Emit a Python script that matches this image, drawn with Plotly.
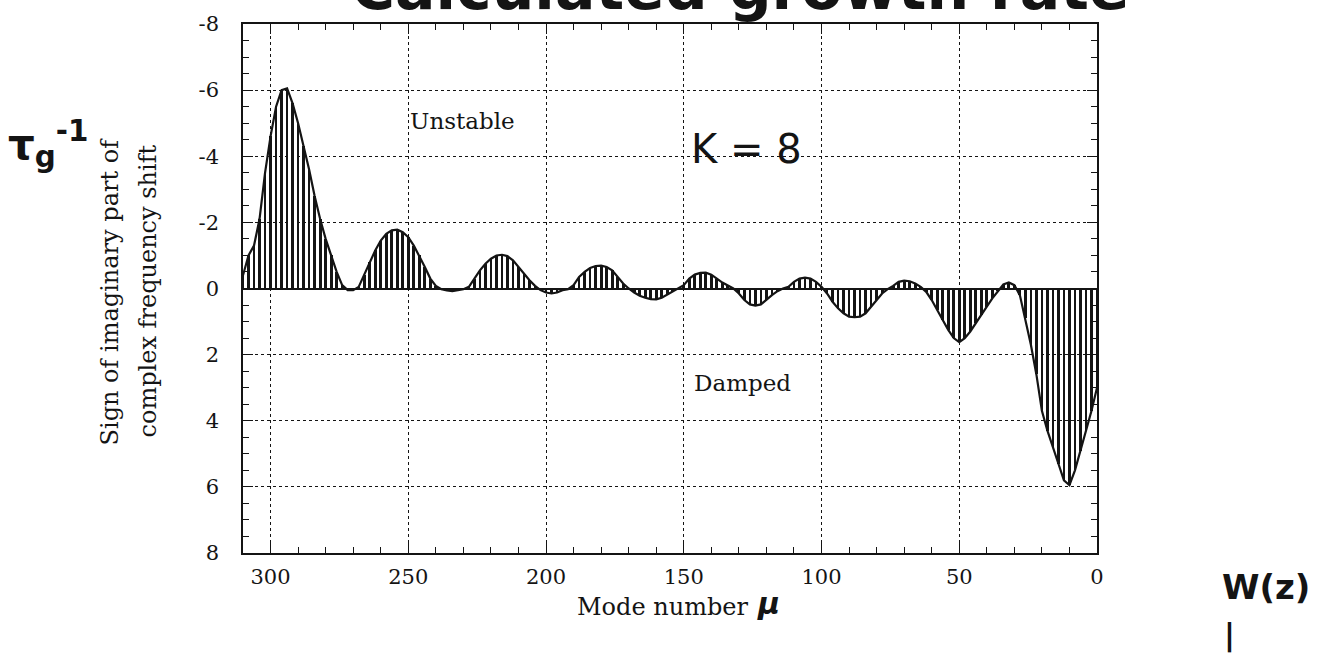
import plotly.graph_objects as go

# ---------------- data ----------------
mode_number = list(range(0, 311, 2))
growth = [
    3.0, 3.7, 4.3, 4.9, 5.5, 5.95, 5.8, 5.3, 4.8, 4.3,          # 0-18
    3.7, 2.6, 1.7, 0.9, 0.2, -0.1, -0.18, -0.12, 0.08, 0.3,      # 20-38
    0.55, 0.8, 1.05, 1.3, 1.5, 1.62, 1.5, 1.25, 0.95, 0.65,      # 40-58
    0.35, 0.1, -0.05, -0.15, -0.22, -0.24, -0.2, -0.08, 0.02, 0.15,  # 60-78
    0.35, 0.55, 0.75, 0.85, 0.87, 0.85, 0.75, 0.6, 0.4, 0.15,    # 80-98
    -0.05, -0.2, -0.3, -0.33, -0.3, -0.2, -0.05, 0.0, 0.08, 0.2,  # 100-118
    0.35, 0.48, 0.52, 0.48, 0.35, 0.15, 0.0, -0.08, -0.18, -0.3,  # 120-138
    -0.42, -0.48, -0.47, -0.42, -0.3, -0.1, 0.0, 0.08, 0.2, 0.28,  # 140-158
    0.33, 0.32, 0.28, 0.22, 0.12, 0.0, -0.15, -0.35, -0.55, -0.65,  # 160-178
    -0.69, -0.68, -0.62, -0.5, -0.35, -0.1, 0.02, 0.05, 0.12, 0.15,  # 180-198
    0.12, 0.05, -0.08, -0.25, -0.45, -0.65, -0.85, -0.98, -1.02, -1.0,  # 200-218
    -0.9, -0.75, -0.55, -0.3, -0.05, 0.02, 0.05, 0.08, 0.06, 0.02,  # 220-238
    -0.08, -0.3, -0.65, -1.0, -1.3, -1.55, -1.7, -1.78, -1.76, -1.65,  # 240-258
    -1.45, -1.15, -0.8, -0.4, -0.05, 0.05, 0.05, -0.1, -0.5, -1.0,  # 260-278
    -1.5, -2.1, -2.8, -3.6, -4.3, -5.0, -5.6, -6.05, -6.0, -5.5,  # 280-298
    -4.6, -3.5, -2.1, -1.3, -1.0, -0.4,                          # 300-310
]

x_tick_vals = [300, 250, 200, 150, 100, 50, 0]
x_tick_text = ["300", "250", "200", "150", "100", "50", "0"]
y_tick_vals = [-8, -6, -4, -2, 0, 2, 4, 6, 8]
y_tick_text = ["-8", "-6", "-4", "-2", "0", "2", "4", "6", "8"]

# ---------------- layout helpers ----------------
W, H = 1318, 657
L, R, T, B = 243, 1097, 19, 553


def px(x):
    return (x - L) / (R - L)


def py(y):
    return (B - y) / (B - T)


INK = "#141414"
SERIF = "DejaVu Serif"
HAND = "DejaVu Sans"

fig = go.Figure()
fig.add_trace(go.Bar(
    x=mode_number, y=growth, width=1.0,
    marker=dict(color=INK, line=dict(width=0)),
    hoverinfo="x+y", showlegend=False,
))
fig.add_trace(go.Scatter(
    x=mode_number, y=growth, mode="lines",
    line=dict(color=INK, width=2.2),
    hoverinfo="skip", showlegend=False,
))

axis_common = dict(
    showline=True, linecolor=INK, linewidth=1.6, mirror="allticks",
    ticks="inside", ticklen=10, tickwidth=1.4, tickcolor=INK,
    showgrid=True, gridcolor=INK, gridwidth=1.3, griddash="dot",
    tickfont=dict(family=SERIF, size=21, color=INK),
)

fig.update_xaxes(
    range=[310, 0], tickmode="array", tickvals=x_tick_vals, ticktext=x_tick_text,
    zeroline=False, ticklabelstandoff=4,
    minor=dict(dtick=10, ticks="inside", ticklen=6, tickwidth=1.2, tickcolor=INK, showgrid=False),
    **axis_common,
)
fig.update_yaxes(
    range=[8, -8], tickmode="array", tickvals=y_tick_vals, ticktext=y_tick_text,
    zeroline=True, zerolinecolor=INK, zerolinewidth=1.6, ticklabelstandoff=18,
    minor=dict(dtick=0.5, ticks="inside", ticklen=6, tickwidth=1.2, tickcolor=INK, showgrid=False),
    **axis_common,
)

annotations = [
    # printed labels
    dict(text="Unstable", x=px(462), y=py(117), font=dict(family=SERIF, size=23, color=INK)),
    dict(text="Damped", x=px(742), y=py(381), font=dict(family=SERIF, size=23, color=INK)),
    dict(text="Sign of imaginary part of", x=px(110), y=py(289), textangle=-90,
         font=dict(family=SERIF, size=24, color=INK)),
    dict(text="complex frequency shift", x=px(148), y=py(289), textangle=-90,
         font=dict(family=SERIF, size=24, color=INK)),
    dict(text="Mode number", x=px(662), y=py(608), font=dict(family=SERIF, size=24, color=INK)),
    # handwritten additions
    dict(text="<b><i>μ</i></b>", x=px(768), y=py(604), font=dict(family=HAND, size=30, color=INK)),
    dict(text="K = 8", x=px(746), y=py(145), font=dict(family=HAND, size=40, color=INK)),
    dict(text="<b>τ<sub>g</sub><sup>-1</sup></b>", x=px(6), y=py(140), xanchor="left",
         font=dict(family=HAND, size=42, color=INK)),
    dict(text="<b>W(z)</b>", x=px(1266), y=py(587), font=dict(family=HAND, size=34, color=INK)),
    dict(text="<b>|</b>", x=px(1229), y=py(636), font=dict(family=HAND, size=30, color=INK)),
    dict(text="<b>Calculated growth rate</b>", x=px(740), y=py(20), yanchor="bottom",
         font=dict(family=HAND, size=60, color=INK)),
]
for a in annotations:
    a.setdefault("xref", "paper")
    a.setdefault("yref", "paper")
    a.setdefault("showarrow", False)
    a.setdefault("xanchor", "center")
    a.setdefault("yanchor", "middle")
fig.update_layout(annotations=annotations)

fig.update_layout(
    width=W, height=H,
    margin=dict(l=L, r=W - R, t=T, b=H - B, pad=0),
    plot_bgcolor="white", paper_bgcolor="white",
    bargap=0, showlegend=False,
)

fig.write_html("out.html", include_plotlyjs=True, full_html=True,
               config={"displayModeBar": False})
